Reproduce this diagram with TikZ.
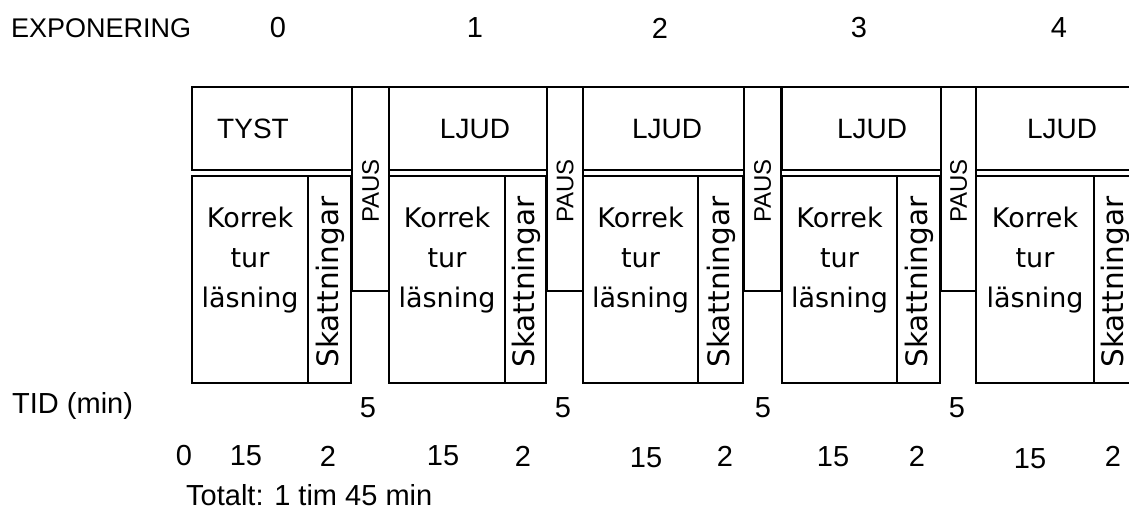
\documentclass[tikz,border=0pt]{standalone}
\usepackage{fontspec}
\setmainfont{Liberation Sans}
\newfontfamily\dejavu{DejaVu Sans}
\begin{document}
\begin{tikzpicture}[x=1pt,y=-1pt,
  box/.style={draw=black,line width=2.8pt},
  lab/.style={font=\fontsize{29}{34}\selectfont,inner sep=0pt},
  toplab/.style={font=\fontsize{28}{34}\selectfont,inner sep=0pt},
  korrlab/.style={font=\dejavu\fontsize{27}{40}\selectfont,inner sep=0pt,align=center,anchor=base},
  skattlab/.style={font=\dejavu\fontsize{29.5}{34}\selectfont,inner sep=0pt,rotate=90},
  pauslab/.style={font=\fontsize{24}{30}\selectfont,inner sep=0pt,rotate=90}]
\useasboundingbox (0,0) rectangle (1129,513);
\clip (0,0) rectangle (1129,513);
% groups: index / left / skatt-left / right / pause-right / label / label offset
\foreach \i/\l/\s/\r/\p/\t/\o in {0/192/308/352/389/TYST/61,
                                  1/389/505/547/583/LJUD/86,
                                  2/583/698/744/781/LJUD/84,
                                  3/782/897/941/976/LJUD/90}{
  \draw[box] (\l,87) rectangle (\r,170);
  \node[toplab] (top\i) at (\l+\o,129) {\t};
  \draw[box] (\l,176) rectangle (\s,383);
  \draw[box] (\s,176) rectangle (\r-1,383);
  \node[korrlab] (korr\i) at ({(\l+\s)/2},307) {Korrek\\tur\\läsning};
  \node[skattlab] (skatt\i) at ({(\s+\r)/2},282) {Skattningar};
  \draw[box] (\r,87) rectangle (\p,291);
  \node[pauslab] (paus\i) at ({(\r+\p)/2},191) {PAUS};
}
% last, cut-off group
\draw[box] (976,87) rectangle (1160,170);
\node[toplab] (top4) at (1062,129) {LJUD};
\draw[box] (976,176) rectangle (1094,383);
\draw[box] (1094,176) rectangle (1160,383);
\node[korrlab] (korr4) at (1035,307) {Korrek\\tur\\läsning};
\node[skattlab] (skatt4) at (1115,282) {Skattningar};
% header
\node[lab,anchor=west,font=\fontsize{27}{34}\selectfont] (expo) at (11,28) {EXPONERING};
\node[lab] (e0) at (278,28) {0};
\node[lab] (e1) at (475,28) {1};
\node[lab] (e2) at (660,28) {2};
\node[lab] (e3) at (859,28) {3};
\node[lab] (e4) at (1059,28) {4};
% time
\node[lab,anchor=west] (tid) at (12,406) {TID (min)};
\node[lab] (p1) at (368,408) {5};
\node[lab] (p2) at (563,408) {5};
\node[lab] (p3) at (763,408) {5};
\node[lab] (p4) at (957,408) {5};
\node[lab] (t0) at (184,456) {0};
\node[lab] (k0) at (246,456) {15};
\node[lab] (s0) at (328,456) {2};
\node[lab] (k1) at (443,456) {15};
\node[lab] (s1) at (523,456) {2};
\node[lab] (k2) at (646,458) {15};
\node[lab] (s2) at (725,456) {2};
\node[lab] (k3) at (833,457) {15};
\node[lab] (s3) at (917,456) {2};
\node[lab] (k4) at (1030,459) {15};
\node[lab] (s4) at (1113,456) {2};
\node[lab,anchor=west] (tot) at (186,495) {Totalt: 1 tim 45 min};
\end{tikzpicture}
\end{document}
